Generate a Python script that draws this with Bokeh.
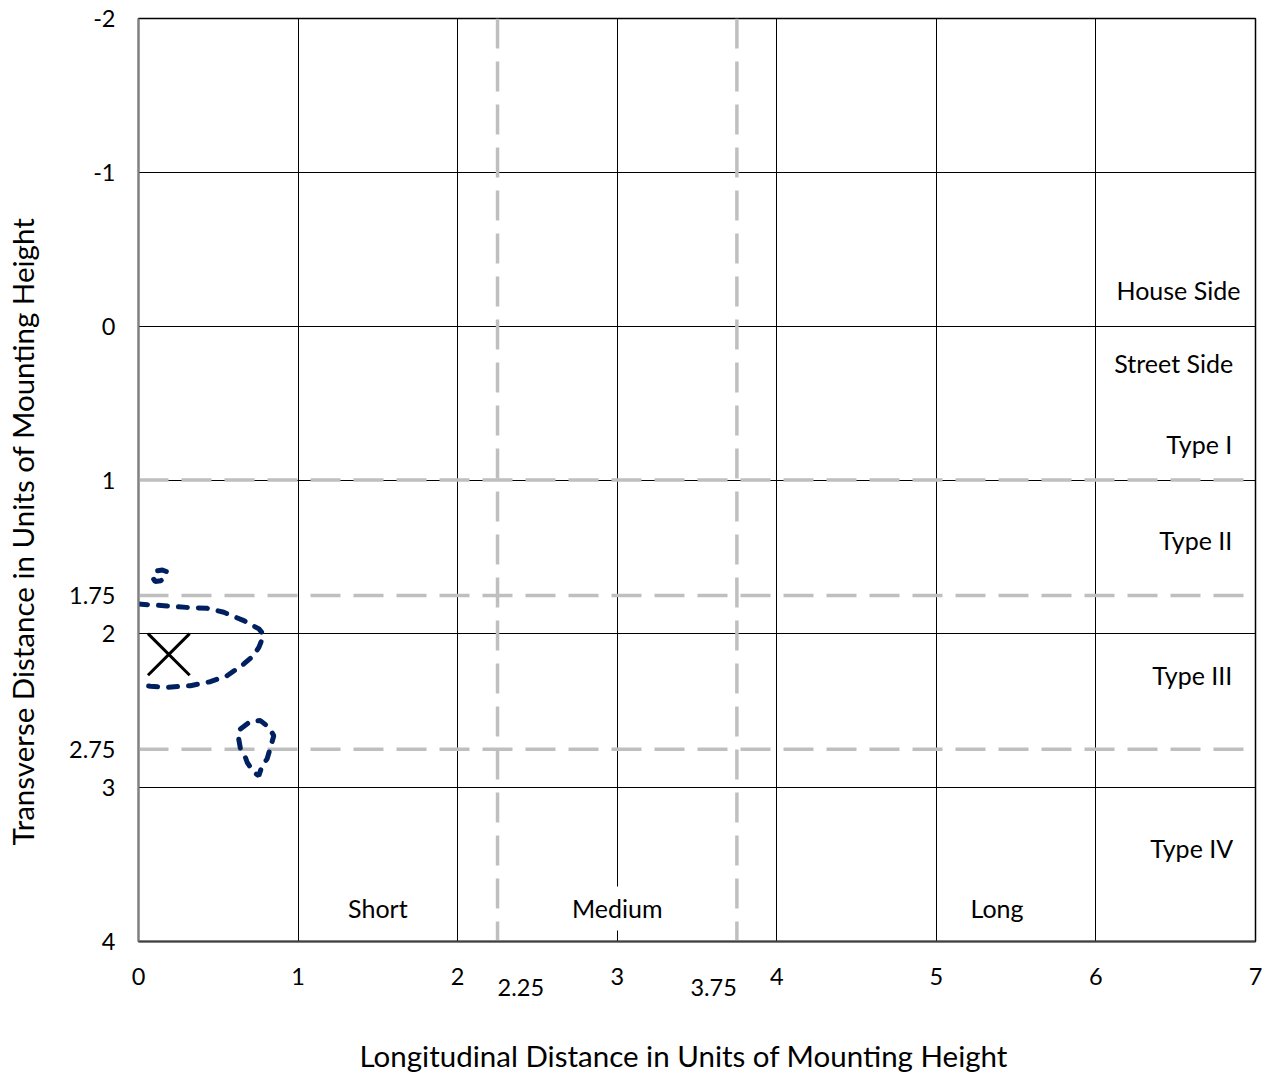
from bokeh.plotting import figure
from bokeh.models import Range1d, FixedTicker, LinearAxis, Span, Title
from bokeh.core.properties import value
from bokeh.embed import file_html
from bokeh.resources import INLINE

# ---------------- data ----------------
x_ticks = [0, 1, 2, 3, 4, 5, 6, 7]
x_tick_labels = ["0", "1", "2", "3", "4", "5", "6", "7"]
y_ticks = [-2, -1, 0, 1, 1.75, 2, 2.75, 3, 4]
y_tick_labels = ["-2", "-1", "0", "1", "1.75", "2", "2.75", "3", "4"]
x_grid_values = [0, 1, 2, 3, 4, 5, 6, 7]
y_grid_values = [-2, -1, 0, 1, 2, 3, 4]

length_limits = [2.25, 3.75]          # Short / Medium / Long boundaries
length_limit_labels = ["2.25", "3.75"]
type_limits = [1, 1.75, 2.75]         # Type I / II / III / IV boundaries

length_names = ["Short", "Medium", "Long"]
length_x = [1.5, 3.0, 5.38]
length_y = [3.785, 3.785, 3.785]

type_names = ["House Side", "Street Side", "Type I", "Type II", "Type III", "Type IV"]
type_x = [6.905, 6.86, 6.855, 6.855, 6.855, 6.86]
type_y = [-0.235, 0.24, 0.765, 1.39, 2.265, 3.395]

x_title = "Longitudinal Distance in Units of Mounting Height"
y_title = "Transverse Distance in Units of Mounting Height"

# iso-candela trace (half-max contour), open at x = 0
main_x = [0.0, 0.08, 0.16, 0.30, 0.43, 0.535, 0.66, 0.755, 0.785, 0.755, 0.72, 0.66,
          0.555, 0.45, 0.325, 0.18, 0.075, 0.0]
main_y = [1.806, 1.812, 1.817, 1.828, 1.834, 1.86, 1.914, 1.968, 2.007, 2.087, 2.142,
          2.196, 2.272, 2.311, 2.337, 2.348, 2.341, 2.332]

small_x = [0.12, 0.15, 0.175, 0.172, 0.14, 0.105, 0.095, 0.10, 0.12]
small_y = [1.59, 1.585, 1.595, 1.625, 1.655, 1.66, 1.645, 1.61, 1.59]

lower_x = [0.639, 0.702, 0.764, 0.817, 0.848, 0.827, 0.806, 0.775, 0.754, 0.722,
           0.681, 0.67, 0.639, 0.628, 0.639]
lower_y = [2.618, 2.569, 2.564, 2.608, 2.662, 2.738, 2.813, 2.857, 2.922, 2.90,
           2.835, 2.803, 2.748, 2.683, 2.618]

max_x = [0.19]
max_y = [2.134]

FONT = "Lato"

# ---------------- figure ----------------
p = figure(frame_width=1117, frame_height=923,
           x_range=Range1d(0, 7), y_range=Range1d(4, -2),
           output_backend="svg", toolbar_location=None,
           min_border_left=138, min_border_right=8, min_border_top=18, min_border_bottom=100,
           background_fill_color="white", border_fill_color="white")

p.outline_line_color = "black"
p.outline_line_width = 1.5
p.outline_line_alpha = 1.0

# grids
p.xgrid.ticker = FixedTicker(ticks=x_grid_values)
p.ygrid.ticker = FixedTicker(ticks=y_grid_values)
for g in (p.xgrid, p.ygrid):
    g.grid_line_color = "black"
    g.grid_line_width = 1
    g.grid_line_alpha = 1.0

# y axis
ya = p.yaxis[0]
ya.ticker = FixedTicker(ticks=y_ticks)
ya.major_label_overrides = dict(zip(y_ticks, y_tick_labels))
ya.major_tick_line_color = None
ya.minor_tick_line_color = None
ya.axis_line_color = "#808080"
ya.axis_line_width = 2
ya.major_label_standoff = 17
ya.major_label_text_font = FONT
ya.major_label_text_font_size = "23.5px"
ya.major_label_text_color = "black"

# x axis (integer ticks)
xa = p.xaxis[0]
xa.ticker = FixedTicker(ticks=x_ticks)
xa.major_label_overrides = dict(zip(x_ticks, x_tick_labels))
xa.major_tick_line_color = None
xa.minor_tick_line_color = None
xa.axis_line_color = "#404040"
xa.axis_line_width = 2
xa.major_label_standoff = 20
xa.major_label_text_font = FONT
xa.major_label_text_font_size = "23.5px"
xa.major_label_text_color = "black"

# second x axis: boundary values, 2.25 printed just right of its line, 3.75 just left of its line
half_label = 0.146   # half the printed width of a boundary label, in x units
x_extra_ticks = [round(length_limits[0] + half_label, 3), round(length_limits[1] - half_label, 3)]
xa2 = LinearAxis(ticker=FixedTicker(ticks=x_extra_ticks),
                 major_label_overrides={t: s + "\n" for t, s in zip(x_extra_ticks, length_limit_labels)},
                 axis_line_color=None, major_tick_line_color=None, minor_tick_line_color=None,
                 major_label_standoff=-21, major_label_text_font=FONT,
                 major_label_text_font_size="23.5px", major_label_text_color="black",
                 major_label_text_line_height=1.15)
p.add_layout(xa2, "below")

# axis titles
p.add_layout(Title(text=x_title, align="left", offset=221, standoff=0,
                   text_font=FONT, text_font_size="29.5px", text_font_style="normal",
                   text_color="black"), "below")
p.add_layout(Title(text=y_title + "\n", align="left", offset=96, standoff=0,
                   vertical_align="top", text_line_height=0.715,
                   text_font=FONT, text_font_size="29.5px", text_font_style="normal",
                   text_color="black"), "left")

# boundary dashed lines
for v in length_limits:
    p.add_layout(Span(location=v, dimension="height", line_color="#BFBFBF",
                      line_width=3.5, line_dash="30 13", level="underlay"))
for v in type_limits:
    p.add_layout(Span(location=v, dimension="width", line_color="#BFBFBF",
                      line_width=3.5, line_dash="30 13", level="underlay"))

# contours
for cx, cy in ((main_x, main_y), (small_x, small_y), (lower_x, lower_y)):
    p.line(cx, cy, line_color="#002060", line_width=5, line_dash="9 11", line_cap="round")

# maximum candela point
p.scatter(max_x, max_y, marker="x", size=59, line_color="black", line_width=3)

# text labels
p.text(x=length_x, y=length_y, text=length_names, text_font=value(FONT),
       text_font_size="25px", text_align="center", text_baseline="middle",
       text_color="black", background_fill_color="white", padding=7)
p.text(x=type_x, y=type_y, text=type_names, text_font=value(FONT),
       text_font_size="25px", text_align="right", text_baseline="middle",
       text_color="black")

open("out.html", "w").write(file_html(p, INLINE))
